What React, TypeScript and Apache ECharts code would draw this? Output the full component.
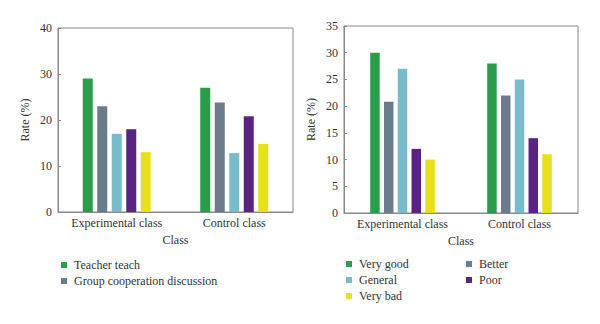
import React, { useEffect, useRef } from "react";
import * as echarts from "echarts";

const categories = ["Experimental class", "Control class"];

const leftNames = ["Teacher teach", "Group cooperation discussion", "Method 3", "Method 4", "Method 5"];
const leftLegend = ["Teacher teach", "Group cooperation discussion"];
const leftValues = [
  [29, 27],
  [23, 23.8],
  [17, 12.8],
  [18, 20.8],
  [13, 14.8],
];

const rightNames = ["Very good", "Better", "General", "Poor", "Very bad"];
const rightLegendA = ["Very good", "General", "Very bad"];
const rightLegendB = ["Better", "Poor"];
const rightValues = [
  [30, 28],
  [20.8, 22],
  [27, 25],
  [12, 14],
  [10, 11],
];

const colors = ["#2a9d4b", "#6a7b8b", "#78bccb", "#5a2382", "#e8e01a"];

const FONT = "Liberation Serif";
const TEXT = "#333";
const AXIS = "#888";

export default function App() {
  const ref = useRef<HTMLDivElement>(null);
  useEffect(() => {
    document.body.style.margin = "0";
    const chart = echarts.init(ref.current!, undefined, { renderer: "svg" });
    const xAxisBase = (gridIndex: number) => ({
      type: "category" as const,
      gridIndex,
      data: categories,
      name: "Class",
      nameLocation: "middle" as const,
      nameGap: 21,
      nameTextStyle: { fontFamily: FONT, fontSize: 12, color: TEXT },
      axisLine: { lineStyle: { color: AXIS } },
      axisTick: { inside: true, length: 3, lineStyle: { color: AXIS } },
      axisLabel: { fontFamily: FONT, fontSize: 12, color: TEXT, margin: 5, interval: 0, hideOverlap: false },
    });
    const yAxisBase = (gridIndex: number, max: number, interval: number) => ({
      type: "value" as const,
      gridIndex,
      min: 0,
      max,
      interval,
      name: "Rate (%)",
      nameLocation: "middle" as const,
      nameGap: 27,
      nameTextStyle: { fontFamily: FONT, fontSize: 12, color: TEXT },
      axisLine: { show: true, lineStyle: { color: AXIS } },
      axisTick: { show: true, inside: true, length: 3, lineStyle: { color: AXIS } },
      axisLabel: { fontFamily: FONT, fontSize: 12, color: TEXT, margin: 6 },
      splitLine: { show: false },
    });
    const legendBase = {
      orient: "vertical" as const,
      icon: "rect",
      itemWidth: 6,
      itemHeight: 6,
      itemGap: 4,
      textStyle: { fontFamily: FONT, fontSize: 12, color: TEXT, padding: [0, 0, 0, 2] },
    };
    const series: any[] = [];
    leftNames.forEach((n, i) =>
      series.push({
        type: "bar",
        name: n,
        xAxisIndex: 0,
        yAxisIndex: 0,
        data: leftValues[i],
        barWidth: 10,
        barGap: "45%",
        itemStyle: { color: colors[i] },
      })
    );
    rightNames.forEach((n, i) =>
      series.push({
        type: "bar",
        name: n,
        xAxisIndex: 1,
        yAxisIndex: 1,
        data: rightValues[i],
        barWidth: 9.5,
        barGap: "45%",
        itemStyle: { color: colors[i] },
      })
    );
    chart.setOption({
      animation: false,
      backgroundColor: "#fff",
      grid: [
        { left: 58, top: 28, width: 235, height: 184, show: true, borderColor: AXIS, borderWidth: 1 },
        { left: 344, top: 26, width: 234, height: 187, show: true, borderColor: AXIS, borderWidth: 1 },
      ],
      xAxis: [xAxisBase(0), xAxisBase(1)],
      yAxis: [yAxisBase(0, 40, 10), yAxisBase(1, 35, 5)],
      legend: [
        { ...legendBase, data: leftLegend, left: 56, top: 254 },
        { ...legendBase, data: rightLegendA, left: 341, top: 253 },
        { ...legendBase, data: rightLegendB, left: 461, top: 253 },
      ],
      series,
    });
    return () => chart.dispose();
  }, []);
  return <div ref={ref} style={{ width: 600, height: 324 }} />;
}
